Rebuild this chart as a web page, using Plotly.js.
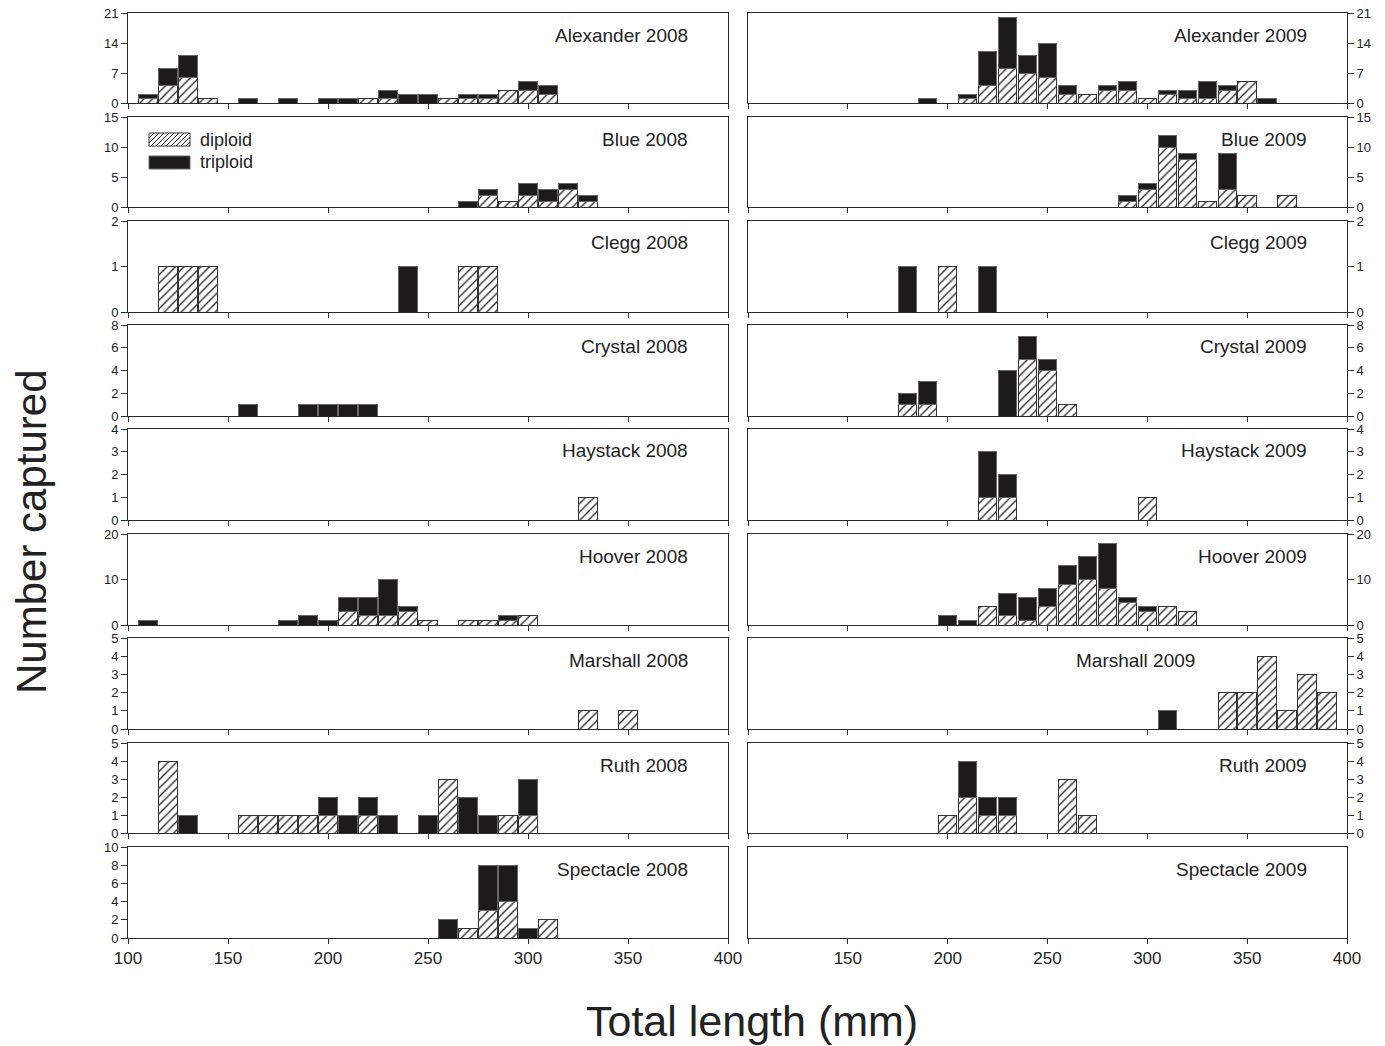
<!DOCTYPE html>
<html>
<head>
<meta charset="utf-8">
<script src="https://cdn.plot.ly/plotly-3.0.1.min.js"></script>
<style>html,body{margin:0;padding:0;background:#fff}#chart{width:1385px;height:1046px}</style>
</head>
<body>
<div id="chart"></div>
<script>
// ---------- DATA (bin centre in mm, diploid count, triploid count) ----------
const alexander2008_len = [110,120,130,140,160,180,200,210,220,230,240,250,260,270,280,290,300,310];
const alexander2008_dip = [1,4,6,1,0,0,0,0,1,1,0,0,1,1,1,3,3,2];
const alexander2008_tri = [1,4,5,0,1,1,1,1,0,2,2,2,0,1,1,0,2,2];

const alexander2009_len = [190,210,220,230,240,250,260,270,280,290,300,310,320,330,340,350,360];
const alexander2009_dip = [0,1,4,8,7,6,2,2,3,3,1,2,1,1,3,5,0];
const alexander2009_tri = [1,1,8,12,4,8,2,0,1,2,0,1,2,4,1,0,1];

const blue2008_len = [270,280,290,300,310,320,330];
const blue2008_dip = [0,2,1,2,1,3,1];
const blue2008_tri = [1,1,0,2,2,1,1];

const blue2009_len = [290,300,310,320,330,340,350,370];
const blue2009_dip = [1,3,10,8,1,3,2,2];
const blue2009_tri = [1,1,2,1,0,6,0,0];

const clegg2008_len = [120,130,140,240,270,280];
const clegg2008_dip = [1,1,1,0,1,1];
const clegg2008_tri = [0,0,0,1,0,0];

const clegg2009_len = [180,200,220];
const clegg2009_dip = [0,1,0];
const clegg2009_tri = [1,0,1];

const crystal2008_len = [160,190,200,210,220];
const crystal2008_dip = [0,0,0,0,0];
const crystal2008_tri = [1,1,1,1,1];

const crystal2009_len = [180,190,230,240,250,260];
const crystal2009_dip = [1,1,0,5,4,1];
const crystal2009_tri = [1,2,4,2,1,0];

const haystack2008_len = [330];
const haystack2008_dip = [1];
const haystack2008_tri = [0];

const haystack2009_len = [220,230,300];
const haystack2009_dip = [1,1,1];
const haystack2009_tri = [2,1,0];

const hoover2008_len = [110,180,190,200,210,220,230,240,250,270,280,290,300];
const hoover2008_dip = [0,0,0,0,3,2,2,3,1,1,1,1,2];
const hoover2008_tri = [1,1,2,1,3,4,8,1,0,0,0,1,0];

const hoover2009_len = [200,210,220,230,240,250,260,270,280,290,300,310,320];
const hoover2009_dip = [0,0,4,2,1,4,9,10,8,5,3,4,3];
const hoover2009_tri = [2,1,0,5,5,4,4,5,10,1,1,0,0];

const marshall2008_len = [330,350];
const marshall2008_dip = [1,1];
const marshall2008_tri = [0,0];

const marshall2009_len = [310,340,350,360,370,380,390];
const marshall2009_dip = [0,2,2,4,1,3,2];
const marshall2009_tri = [1,0,0,0,0,0,0];

const ruth2008_len = [120,130,160,170,180,190,200,210,220,230,250,260,270,280,290,300];
const ruth2008_dip = [4,0,1,1,1,1,1,0,1,0,0,3,0,0,1,1];
const ruth2008_tri = [0,1,0,0,0,0,1,1,1,1,1,0,2,1,0,2];

const ruth2009_len = [200,210,220,230,260,270];
const ruth2009_dip = [1,2,1,1,3,1];
const ruth2009_tri = [0,2,1,1,0,0];

const spectacle2008_len = [260,270,280,290,300,310];
const spectacle2008_dip = [0,1,3,4,0,2];
const spectacle2008_tri = [2,0,5,4,1,0];

const spectacle2009_len = [];
const spectacle2009_dip = [];
const spectacle2009_tri = [];

const lakes = ['Alexander','Blue','Clegg','Crystal','Haystack','Hoover','Marshall','Ruth','Spectacle'];
const years = [2008, 2009];
const yMax  = [21, 15, 2, 8, 4, 20, 5, 5, 10];
const yStep = [7, 5, 1, 2, 1, 10, 1, 1, 2];
const xTicks = [100,150,200,250,300,350,400];
const seriesNames = ['diploid','triploid'];

const dataByPanel = {
  'Alexander 2008':[alexander2008_len,alexander2008_dip,alexander2008_tri],
  'Alexander 2009':[alexander2009_len,alexander2009_dip,alexander2009_tri],
  'Blue 2008':[blue2008_len,blue2008_dip,blue2008_tri],
  'Blue 2009':[blue2009_len,blue2009_dip,blue2009_tri],
  'Clegg 2008':[clegg2008_len,clegg2008_dip,clegg2008_tri],
  'Clegg 2009':[clegg2009_len,clegg2009_dip,clegg2009_tri],
  'Crystal 2008':[crystal2008_len,crystal2008_dip,crystal2008_tri],
  'Crystal 2009':[crystal2009_len,crystal2009_dip,crystal2009_tri],
  'Haystack 2008':[haystack2008_len,haystack2008_dip,haystack2008_tri],
  'Haystack 2009':[haystack2009_len,haystack2009_dip,haystack2009_tri],
  'Hoover 2008':[hoover2008_len,hoover2008_dip,hoover2008_tri],
  'Hoover 2009':[hoover2009_len,hoover2009_dip,hoover2009_tri],
  'Marshall 2008':[marshall2008_len,marshall2008_dip,marshall2008_tri],
  'Marshall 2009':[marshall2009_len,marshall2009_dip,marshall2009_tri],
  'Ruth 2008':[ruth2008_len,ruth2008_dip,ruth2008_tri],
  'Ruth 2009':[ruth2009_len,ruth2009_dip,ruth2009_tri],
  'Spectacle 2008':[spectacle2008_len,spectacle2008_dip,spectacle2008_tri],
  'Spectacle 2009':[spectacle2009_len,spectacle2009_dip,spectacle2009_tri]
};

// ---------- LAYOUT GEOMETRY (pixels) ----------
const W = 1385, H = 1046;
const FONT = 'Liberation Sans, Arial, Helvetica, sans-serif';
const colX = [[128, 728], [748, 1347]];
const rowY = [[13,103],[117,207],[221,312],[325,416],[429,520],[534,625],[638,729],[743,833],[847,938]];
const AX = '#2a2a2a';
const px = v => v / W, py = v => 1 - v / H;

const traces = [];
const layout = {
  width: W, height: H,
  margin: {l:0, r:0, t:0, b:0},
  paper_bgcolor: '#fff', plot_bgcolor: '#fff',
  barmode: 'stack',
  font: {family: FONT, color: '#222', size: 12},
  showlegend: false,
  annotations: [], shapes: []
};

let n = 0;
lakes.forEach((lake, r) => {
  years.forEach((yr, c) => {
    n += 1;
    const key = lake + ' ' + yr;
    const [len, dip, tri] = dataByPanel[key];
    const xs = 'x' + (n === 1 ? '' : n), ys = 'y' + (n === 1 ? '' : n);
    const xName = 'xaxis' + (n === 1 ? '' : n), yName = 'yaxis' + (n === 1 ? '' : n);
    const [x0, x1] = colX[c], [t, b] = rowY[r];
    const bottom = (r === lakes.length - 1);
    const empty = len.length === 0;

    layout[xName] = {
      domain: [px(x0), px(x1)], anchor: ys, range: [100, 400],
      tickvals: xTicks,
      ticktext: xTicks.map(v => (c === 1 && v === 100) ? '' : String(v)),
      tickmode: 'array',
      showticklabels: bottom, ticks: 'outside', ticklen: 5, tickwidth: 1, tickcolor: AX,
      tickfont: {family: FONT, size: 17, color: '#222'},
      showline: true, mirror: true, linecolor: AX, linewidth: 1,
      showgrid: false, zeroline: false, fixedrange: true
    };
    layout[yName] = {
      domain: [py(b), py(t)], anchor: xs, range: [0, yMax[r]],
      side: c === 0 ? 'left' : 'right',
      dtick: yStep[r], tick0: 0,
      ticks: empty ? '' : 'outside', showticklabels: !empty,
      ticklen: 6, tickwidth: 1, tickcolor: AX,
      tickfont: {family: FONT, size: 13, color: '#222'},
      showline: true, mirror: true, linecolor: AX, linewidth: 1,
      showgrid: false, zeroline: false, fixedrange: true
    };

    const keepD = dip.map((v, i) => v > 0 ? i : -1).filter(i => i >= 0);
    const keepT = tri.map((v, i) => v > 0 ? i : -1).filter(i => i >= 0);

    traces.push({
      type: 'bar', name: seriesNames[0], legendgroup: 'dip',
      x: keepD.map(i => len[i]), y: keepD.map(i => dip[i]),
      xaxis: xs, yaxis: ys, width: 9.2,
      marker: {color: '#ffffff', line: {color: '#333', width: 1},
               pattern: {shape: '/', fgcolor: '#222', bgcolor: '#ffffff', size: 6, solidity: 0.22}},
      hoverinfo: 'x+y+name'
    });
    traces.push({
      type: 'bar', name: seriesNames[1], legendgroup: 'tri',
      x: keepT.map(i => len[i]), y: keepT.map(i => tri[i]),
      xaxis: xs, yaxis: ys, width: 9.2,
      marker: {color: '#1c1a1b', line: {color: '#666', width: 1}},
      hoverinfo: 'x+y+name'
    });

    const labelRight = (key === 'Marshall 2009') ? 1197 : x1 - 38;
    layout.annotations.push({
      text: key, xref: 'paper', yref: 'paper',
      x: px(labelRight), y: py(t + 22), xanchor: 'right', yanchor: 'middle',
      showarrow: false, font: {family: FONT, size: 19, color: '#222'}
    });
  });
});

// ---------- Legend (drawn as swatches + text, as in the original figure) ----------
const sw = {x0: 149, x1: 190, h: 13};
const legendRows = [{name: seriesNames[0], yTop: 133, hatch: true}, {name: seriesNames[1], yTop: 156, hatch: false}];
legendRows.forEach(item => {
  const y0 = item.yTop, y1 = item.yTop + sw.h;
  layout.shapes.push({
    type: 'rect', xref: 'paper', yref: 'paper',
    x0: px(sw.x0), x1: px(sw.x1), y0: py(y1), y1: py(y0),
    fillcolor: item.hatch ? '#ffffff' : '#1c1a1b',
    line: {color: item.hatch ? '#333' : '#666', width: 1}, layer: 'above'
  });
  if (item.hatch) {
    const step = 5;
    for (let k = sw.x0 + y0 + step; k < sw.x1 + y1; k += step) {
      const xa = Math.max(sw.x0, k - y1), xb = Math.min(sw.x1, k - y0);
      if (xb - xa < 0.5) continue;
      layout.shapes.push({
        type: 'line', xref: 'paper', yref: 'paper',
        x0: px(xa), y0: py(k - xa), x1: px(xb), y1: py(k - xb),
        line: {color: '#222', width: 1}, layer: 'above'
      });
    }
  }
  layout.annotations.push({
    text: item.name, xref: 'paper', yref: 'paper',
    x: px(198), y: py(item.yTop + sw.h / 2), xanchor: 'left', yanchor: 'middle',
    showarrow: false, font: {family: FONT, size: 18, color: '#222'}
  });
});

layout.annotations.push({
  text: 'Number captured', xref: 'paper', yref: 'paper',
  x: px(31), y: py(532), xanchor: 'center', yanchor: 'middle', textangle: -90,
  showarrow: false, font: {family: FONT, size: 42, color: '#222'}
});
layout.annotations.push({
  text: 'Total length (mm)', xref: 'paper', yref: 'paper',
  x: px(752), y: py(1021), xanchor: 'center', yanchor: 'middle',
  showarrow: false, font: {family: FONT, size: 43, color: '#222'}
});

Plotly.newPlot('chart', traces, layout, {displayModeBar: false, staticPlot: true});
</script>
</body>
</html>
